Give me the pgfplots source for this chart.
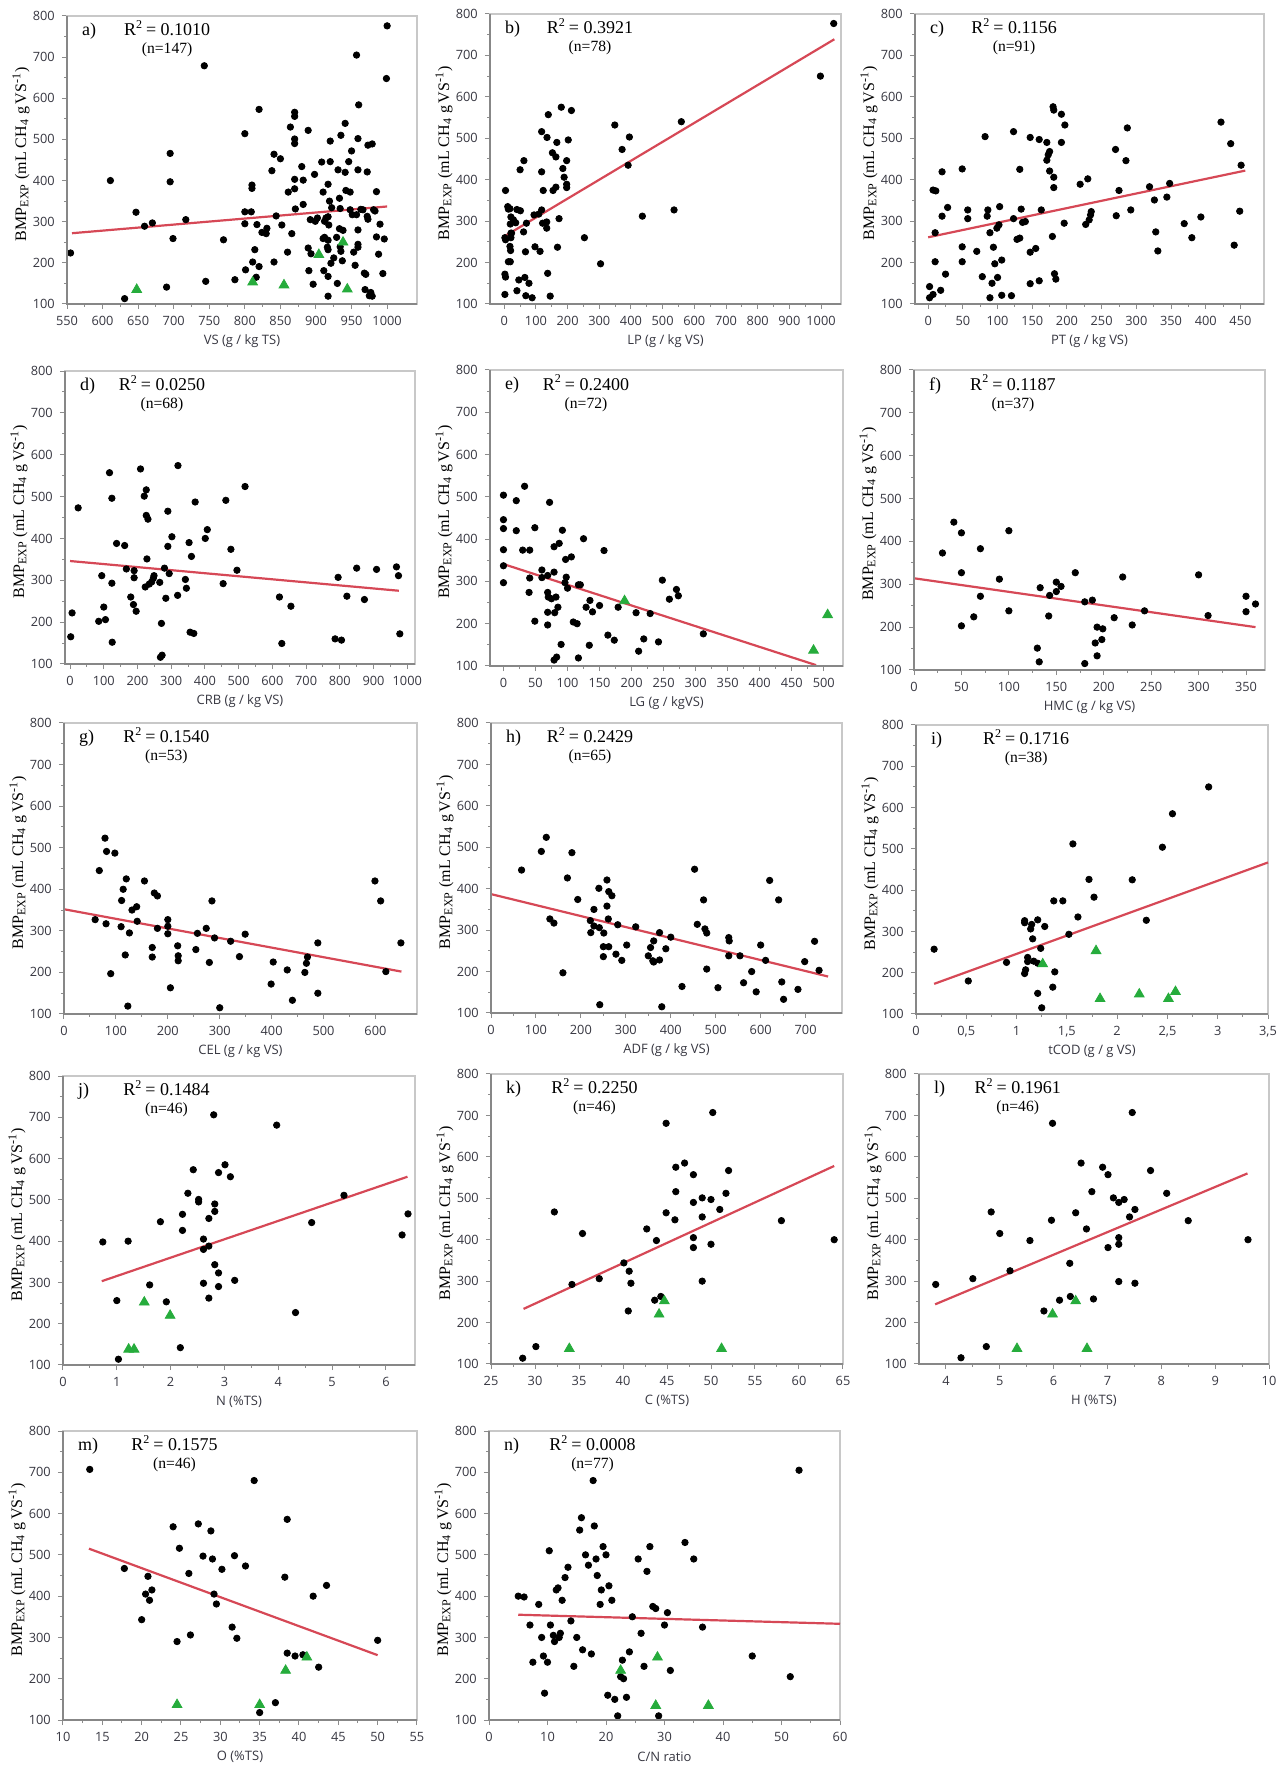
\documentclass[border=0pt]{standalone}
\usepackage{fontspec}
\setmainfont{Liberation Serif}
\newfontfamily\tickfont{Open Sans}
\usepackage{pgfplots}
\pgfplotsset{compat=1.18}

\definecolor{fitred}{RGB}{214,72,86}
\definecolor{trigreen}{RGB}{38,172,60}
\definecolor{framegray}{RGB}{200,200,200}
\definecolor{axisdark}{RGB}{135,135,135}
\definecolor{tickgray}{RGB}{140,140,140}
\definecolor{labcol}{RGB}{55,55,65}

\newcommand\tickfnt{\tickfont\fontsize{6.4}{7.5}\selectfont}
\newcommand\xlabfnt{\tickfont\fontsize{6.5}{7.5}\selectfont}
\newcommand\ylabfnt{\fontsize{8}{9}\selectfont}
\newcommand\rfnt{\fontsize{9}{10}\selectfont}
\newcommand\nfnt{\fontsize{7.8}{9}\selectfont}

\pgfplotsset{
  panel/.style={
    scale only axis, clip=false, anchor=south west,
    ymin=100, ymax=800, ytick={100,200,...,800},
    minor x tick num=1, minor y tick num=1,
    tick align=outside, tick pos=left,
    major tick length=2.6pt, minor tick length=1.5pt,
    tick style={tickgray, line width=0.5pt},
    axis line style={framegray, line width=0.6pt},
    ticklabel style={font=\tickfnt, text=labcol},
    /pgf/number format/assume math mode=true,
    /pgf/number format/1000 sep={},
    scaled ticks=false,
    ylabel={BMP\textsubscript{EXP} (mL CH\textsubscript{4} g\,VS\textsuperscript{-1})},
    every axis y label/.style={at={(axis description cs:0,0.52)}, xshift=-23pt,
      anchor=center, rotate=90, font=\ylabfnt},
    every axis x label/.style={at={(axis description cs:0.5,0)}, yshift=-18.5pt,
      anchor=center, font=\xlabfnt, text=labcol},
    after end axis/.code={\draw[axisdark, line width=0.6pt]
      (rel axis cs:0,1) -- (rel axis cs:0,0) -- (rel axis cs:1,0);},
  },
  dots/.style={only marks, mark=*, mark size=1.6pt, black},
  tris/.style={only marks, mark=triangle*, mark size=2.8pt, color=trigreen},
  fit/.style={no marks, fitred, line width=1.1pt},
}

% letter, R^2, n, horizontal position of the statistics
\newcommand\stats[4]{%
  \node[anchor=west, font=\rfnt] at ([xshift=4pt]rel axis cs:0,0.948) {#1)};
  \node[font=\rfnt] at (rel axis cs:#4,0.958) {R\textsuperscript{2}\,= #2};
  \node[font=\nfnt] at (rel axis cs:#4,0.884) {(n=#3)};
}

\begin{document}
\begin{tikzpicture}
\useasboundingbox (0,0) rectangle (641pt,883.5pt);

% a) VS
\begin{axis}[panel, at={(33.5pt,731.5pt)}, width=175pt, height=144pt,
  xmin=550, xmax=1042, xtick={550,600,...,1000}, xlabel={VS (g / kg TS)}]
\addplot[fit] coordinates {(557,272) (1000,337)};
\addplot[dots] coordinates {
(555,224)(631,113)(647,323)(659,289)(670,297)(611,400)(690,141)(695,466)(695,397)(699,259)
(717,305)(743,679)(745,155)(770,256)(786,159)(800,514)(800,324)(800,295)(801,183)(809,324)
(810,389)(810,381)(811,202)(814,232)(816,165)(817,293)(820,191)(820,573)(824,274)(831,284)
(830,271)(838,424)(841,464)(841,202)(844,314)(850,453)(852,292)(860,226)(861,372)(864,530)
(866,271)(870,566)(870,556)(870,501)(870,490)(870,403)(870,380)(871,331)(880,434)(882,401)
(882,342)(889,522)(889,236)(890,181)(892,305)(893,222)(896,148)(898,415)(899,301)(902,309)
(908,445)(910,372)(910,259)(911,181)(912,301)(914,309)(916,238)(917,312)(917,119)(917,167)
(917,391)(917,255)(918,292)(919,350)(920,446)(920,496)(921,199)(922,334)(925,212)(929,262)
(930,150)(931,426)(933,357)(933,283)(934,239)(935,228)(935,510)(937,205)(938,279)(934,332)
(941,539)(941,420)(942,376)(946,446)(948,372)(948,329)(950,472)(951,317)(953,226)(955,194)
(957,705)(959,502)(959,426)(959,280)(960,584)(959,245)(959,238)(966,329)(968,175)(969,135)
(970,172)(972,313)(973,306)(972,421)(973,486)(977,128)(975,120)(979,119)(979,489)(981,329)
(983,326)(985,373)(985,263)(988,221)(990,294)(994,174)(996,258)(999,648)(1000,776)
(957,317)(963,330)(917,232)(912,262)};
\addplot[tris] coordinates {(648,135)(811,153)(855,146)(904,220)(938,250)(944,136)};
\stats{a}{0.1010}{147}{0.286}
\end{axis}

% b) LP
\begin{axis}[panel, at={(245pt,731.5pt)}, width=175.5pt, height=145pt,
  xmin=-45, xmax=1063, xtick={0,100,...,1000}, xlabel={LP (g / kg VS)}]
\addplot[fit] coordinates {(0,263) (1042,739)};
\addplot[dots] coordinates {
(4,374)(2,260)(4,255)(2,172)(4,165)(2,123)(11,335)(13,329)(18,330)(21,310)(23,271)(19,293)
(29,303)(36,296)(21,271)(21,260)(18,239)(20,229)(13,202)(19,202)(40,328)(51,325)(50,424)
(62,446)(61,274)(67,226)(70,295)(46,158)(65,164)(78,150)(40,132)(68,120)(88,115)(97,238)
(113,227)(94,315)(109,317)(118,327)(121,295)(134,298)(134,283)(118,419)(123,374)(118,516)
(135,502)(139,557)(137,174)(145,119)(152,465)(154,374)(163,382)(163,455)(166,490)(168,237)
(173,306)(180,575)(185,427)(189,406)(197,446)(197,389)(197,381)(202,496)(212,567)(253,260)
(304,197)(349,532)(372,473)(391,435)(395,503)(436,312)(536,327)(559,540)(998,650)(1040,777)};
\stats{b}{0.3921}{78}{0.285}
\end{axis}

% c) PT
\begin{axis}[panel, at={(457.5pt,731.5pt)}, width=174.5pt, height=145pt,
  xmin=-19, xmax=484, xtick={0,50,...,450}, xlabel={PT (g / kg VS)}]
\addplot[fit] coordinates {(0,261) (457,422)};
\addplot[dots] coordinates {
(2,115)(2,142)(7,123)(7,375)(11,373)(10,272)(10,202)(18,133)(20,419)(20,312)(25,172)(28,333)
(49,426)(49,238)(49,202)(57,327)(57,306)(70,227)(78,166)(82,504)(85,312)(86,327)(89,272)
(89,115)(92,150)(94,237)(96,197)(99,283)(100,164)(102,291)(103,335)(106,206)(106,121)
(120,120)(123,516)(123,306)(128,256)(132,425)(132,259)(134,329)(136,297)(140,299)(155,234)
(147,502)(147,225)(147,149)(160,497)(160,156)(163,327)(171,490)(171,447)(173,460)(175,468)
(175,421)(180,576)(181,568)(181,406)(181,381)(179,263)(182,173)(184,160)(192,490)(192,558)
(197,532)(196,295)(219,389)(230,402)(227,292)(232,303)(234,315)(235,323)(270,473)(271,313)
(275,374)(285,446)(287,525)(292,327)(319,383)(326,351)(328,274)(331,228)(344,358)(348,391)
(369,294)(380,260)(393,310)(422,539)(436,487)(441,242)(449,324)(451,435)};
\stats{c}{0.1156}{91}{0.284}
\end{axis}

% d) CRB
\begin{axis}[panel, at={(32.5pt,551.5pt)}, width=175pt, height=146.5pt,
  xmin=-15, xmax=1023, xtick={0,100,...,1000}, xlabel={CRB (g / kg VS)}]
\addplot[fit] coordinates {(0,346) (975,275)};
\addplot[dots] coordinates {
(2,165)(6,222)(24,473)(85,202)(94,311)(100,236)(105,206)(117,557)(124,496)(124,293)(125,152)
(138,388)(162,383)(167,327)(180,260)(188,242)(190,323)(190,306)(196,226)(209,566)(220,501)
(226,516)(223,284)(226,455)(231,446)(228,351)(235,291)(242,296)(247,305)(249,311)(266,295)
(271,197)(268,116)(273,121)(280,329)(284,257)(290,465)(290,381)(294,316)(302,404)(319,264)
(320,574)(342,302)(345,281)(353,390)(360,357)(356,176)(367,173)(371,487)(401,400)(407,421)
(454,292)(462,491)(477,374)(495,324)(519,524)(621,260)(628,149)(655,238)(786,160)(795,307)
(805,157)(821,262)(850,329)(873,254)(909,326)(968,332)(974,311)(978,172)};
\stats{d}{0.0250}{68}{0.277}
\end{axis}

% e) LG
\begin{axis}[panel, at={(245pt,550.5pt)}, width=176.5pt, height=148pt,
  xmin=-21, xmax=530, xtick={0,50,...,500}, xlabel={LG (g / kgVS)}]
\addplot[fit] coordinates {(0,341) (488,102)};
\addplot[dots] coordinates {
(0,504)(0,446)(0,425)(0,375)(0,337)(0,297)(20,491)(20,420)(33,525)(30,374)(41,374)(41,308)
(40,274)(49,427)(49,206)(60,327)(60,309)(72,487)(69,314)(69,274)(70,263)(69,227)(69,197)
(75,259)(79,322)(79,382)(80,226)(79,114)(83,121)(82,263)(85,239)(87,390)(90,151)(92,421)
(97,352)(98,310)(100,284)(96,297)(106,358)(109,204)(115,200)(117,119)(117,292)(120,292)
(125,401)(129,239)(135,255)(134,149)(139,228)(150,243)(157,373)(163,173)(173,161)(179,239)
(207,226)(211,135)(219,164)(229,224)(242,157)(248,303)(259,258)(270,281)(273,266)(312,176)};
\addplot[tris] coordinates {(189,254)(484,137)(506,221)};
\stats{e}{0.2400}{72}{0.272}
\end{axis}

% f) HMC
\begin{axis}[panel, at={(457pt,548.5pt)}, width=175.5pt, height=150pt,
  xmin=0, xmax=370, xtick={0,50,...,350}, xlabel={HMC (g / kg VS)}]
\addplot[fit] coordinates {(0,314) (360,200)};
\addplot[dots] coordinates {
(30,373)(42,445)(50,420)(50,327)(50,203)(70,383)(70,272)(63,224)(90,312)(100,425)(100,238)
(130,151)(132,119)(133,292)(142,226)(143,274)(150,305)(150,283)(155,295)(170,327)(180,259)
(180,115)(188,263)(191,163)(193,200)(193,133)(198,171)(199,196)(211,222)(220,317)(230,205)
(243,238)(300,322)(310,227)(350,272)(350,236)(360,254)};
\stats{f}{0.1187}{37}{0.282}
\end{axis}

% g) CEL
\begin{axis}[panel, at={(32pt,376.5pt)}, width=176.5pt, height=145.5pt,
  xmin=0, xmax=680, xtick={0,100,...,600}, xlabel={CEL (g / kg VS)}]
\addplot[fit] coordinates {(0,352) (650,202)};
\addplot[dots] coordinates {
(60,327)(68,445)(79,523)(81,317)(82,491)(98,487)(90,197)(110,310)(111,373)(114,400)(118,242)
(120,425)(123,119)(126,295)(131,350)(140,358)(141,323)(155,420)(170,260)(170,237)(174,391)
(180,384)(180,306)(200,327)(200,311)(200,293)(205,163)(219,264)(220,240)(220,228)(254,255)
(257,294)(274,306)(280,224)(285,372)(290,283)(300,115)(321,275)(338,238)(349,292)(399,172)
(403,225)(430,206)(440,133)(464,200)(467,222)(469,237)(489,271)(489,150)(599,420)(610,372)
(620,202)(649,271)};
\stats{g}{0.1540}{53}{0.290}
\end{axis}

% h) ADF
\begin{axis}[panel, at={(245.5pt,377pt)}, width=175.5pt, height=145pt,
  xmin=0, xmax=781, xtick={0,100,...,700}, xlabel={ADF (g / kg VS)}]
\addplot[fit] coordinates {(0,387) (750,188)};
\addplot[dots] coordinates {
(68,445)(112,490)(123,524)(131,327)(140,317)(160,197)(170,426)(180,487)(193,374)(221,323)
(222,294)(229,350)(229,310)(240,401)(241,306)(242,120)(251,293)(250,260)(250,236)(258,421)
(258,358)(261,327)(262,393)(262,260)(269,383)(278,242)(282,313)(291,227)(302,264)(322,308)
(350,238)(355,258)(362,274)(362,223)(360,226)(375,294)(375,228)(380,115)(389,255)(400,283)
(425,164)(453,447)(459,314)(473,373)(476,303)(480,293)(480,206)(505,161)(529,282)(530,274)
(529,238)(554,238)(562,173)(580,200)(590,151)(600,264)(611,227)(620,420)(640,373)(647,175)
(651,133)(683,157)(698,224)(720,273)(730,203)};
\stats{h}{0.2429}{65}{0.282}
\end{axis}

% i) tCOD
\begin{axis}[panel, at={(458pt,376.5pt)}, width=176pt, height=144.5pt,
  xmin=0, xmax=3.5, xtick={0,0.5,1,1.5,2,2.5,3,3.5},
  xticklabels={0,{0,5},1,{1,5},2,{2,5},3,{3,5}}, xlabel={tCOD (g / g VS)}]
\addplot[fit] coordinates {(0.18,173) (3.5,467)};
\addplot[dots] coordinates {
(0.18,257)(0.52,180)(0.90,225)(1.08,326)(1.08,321)(1.09,207)(1.08,198)(1.11,237)(1.11,227)
(1.14,306)(1.15,317)(1.16,282)(1.17,228)(1.21,328)(1.21,223)(1.21,150)(1.24,259)(1.25,115)
(1.28,312)(1.36,165)(1.37,374)(1.38,202)(1.46,374)(1.52,293)(1.56,512)(1.61,335)(1.72,426)
(1.77,383)(2.15,425)(2.29,327)(2.45,504)(2.55,585)(2.91,650)};
\addplot[tris] coordinates {(1.26,221)(1.79,253)(1.83,137)(2.22,148)(2.51,137)(2.58,154)};
\stats{i}{0.1716}{38}{0.313}
\end{axis}

% j) N
\begin{axis}[panel, at={(31.5pt,201pt)}, width=176pt, height=144.5pt,
  xmin=0, xmax=6.54, xtick={0,1,...,6}, xlabel={N (\%TS)}]
\addplot[fit] coordinates {(0.72,303) (6.4,556)};
\addplot[dots] coordinates {
(0.74,398)(1.0,256)(1.03,114)(1.21,400)(1.61,294)(1.81,447)(1.92,253)(2.18,142)(2.22,465)
(2.22,426)(2.32,516)(2.42,573)(2.52,501)(2.52,495)(2.61,405)(2.61,380)(2.61,298)(2.71,455)
(2.71,388)(2.71,262)(2.80,706)(2.82,490)(2.82,472)(2.82,343)(2.89,566)(2.89,323)(2.89,290)
(3.01,585)(3.11,556)(3.19,305)(3.97,681)(4.32,227)(4.62,445)(5.22,511)(6.30,415)(6.41,466)};
\addplot[tris] coordinates {(1.22,138)(1.32,138)(1.51,252)(1.99,220)};
\stats{j}{0.1484}{46}{0.294}
\end{axis}

% k) C
\begin{axis}[panel, at={(245.5pt,201.5pt)}, width=176pt, height=145pt,
  xmin=25, xmax=65, xtick={25,30,...,65}, xlabel={C (\%TS)}]
\addplot[fit] coordinates {(28.7,233) (64,578)};
\addplot[dots] coordinates {
(28.6,114)(30.1,142)(32.2,467)(34.2,292)(35.4,415)(37.3,306)(40.1,344)(40.7,324)(40.9,295)
(40.6,228)(42.7,426)(43.6,254)(43.8,398)(44.3,263)(44.9,681)(44.9,465)(45.9,448)(46.0,575)
(46.0,516)(47.0,585)(48.0,557)(48.0,490)(48.0,405)(48.0,381)(49.0,501)(49.0,455)(49.0,300)
(50.0,497)(50.0,389)(50.2,707)(51.0,473)(51.7,512)(52.0,567)(58.0,446)(64.0,400)};
\addplot[tris] coordinates {(33.9,137)(44.1,220)(44.7,252)(51.2,137)};
\stats{k}{0.2250}{46}{0.294}
\end{axis}

% l) H
\begin{axis}[panel, at={(459.5pt,201.5pt)}, width=175pt, height=145pt,
  xmin=3.5, xmax=10, xtick={4,5,...,10}, xlabel={H (\%TS)}]
\addplot[fit] coordinates {(3.8,244) (9.6,560)};
\addplot[dots] coordinates {
(3.81,292)(4.28,115)(4.50,306)(4.75,142)(4.84,467)(5.0,415)(5.19,325)(5.56,398)(5.82,228)
(5.96,447)(5.98,681)(6.11,254)(6.30,343)(6.31,263)(6.41,465)(6.51,585)(6.61,426)(6.71,516)
(6.74,257)(6.91,575)(7.01,557)(7.01,381)(7.11,501)(7.21,490)(7.21,405)(7.21,389)(7.21,299)
(7.31,497)(7.41,455)(7.46,707)(7.51,473)(7.51,295)(7.80,567)(8.10,512)(8.50,446)(9.61,400)};
\addplot[tris] coordinates {(5.32,137)(5.98,220)(6.41,252)(6.62,137)};
\stats{l}{0.1961}{46}{0.282}
\end{axis}

% m) O
\begin{axis}[panel, at={(31.5pt,23.5pt)}, width=177pt, height=144.5pt,
  xmin=10, xmax=55, xtick={10,15,...,55}, xlabel={O (\%TS)}]
\addplot[fit] coordinates {(13.3,515) (50,257)};
\addplot[dots] coordinates {
(13.4,707)(17.8,467)(20.0,343)(20.5,405)(21.0,390)(21.3,415)(20.8,448)(24.0,568)(24.5,290)
(24.8,516)(26.0,455)(26.2,306)(27.2,575)(27.8,497)(28.8,558)(29.0,490)(29.2,405)(29.5,381)
(30.2,465)(31.5,325)(31.8,498)(32.1,298)(33.2,473)(34.3,680)(35.0,118)(37.0,142)(38.5,586)
(38.2,446)(38.5,262)(39.5,255)(40.5,258)(41.8,400)(42.5,228)(43.5,426)(50.0,293)};
\addplot[tris] coordinates {(24.5,137)(35.0,137)(38.3,220)(41.0,252)};
\stats{m}{0.1575}{46}{0.315}
\end{axis}

% n) C/N ratio
\begin{axis}[panel, at={(244.5pt,23.5pt)}, width=175.5pt, height=144.5pt,
  xmin=0, xmax=60, xtick={0,10,...,60}, xlabel={C/N ratio}]
\addplot[fit] coordinates {(5,355) (60,333)};
\addplot[dots] coordinates {
(5.0,400)(6.0,398)(7.0,330)(7.5,240)(8.5,380)(9.0,300)(9.3,255)(9.5,165)(10.0,240)(10.3,510)
(10.5,330)(11.0,305)(11.2,290)(11.5,415)(11.8,420)(12.0,300)(12.2,310)(12.5,390)(13.0,445)
(13.5,470)(14.0,340)(14.5,230)(15.0,300)(15.5,560)(15.8,590)(16.0,270)(16.5,500)(17.0,475)
(17.5,260)(17.8,680)(18.0,570)(18.3,490)(18.5,450)(19.0,380)(19.2,415)(19.5,520)(20.0,500)
(20.3,160)(20.5,425)(21.0,390)(21.5,150)(22.0,110)(22.5,205)(22.8,245)(23.0,200)(23.5,155)
(24.0,265)(24.5,350)(25.5,490)(26.0,310)(26.5,230)(27.0,460)(27.5,520)(28.0,375)(28.5,370)
(29.0,110)(30.0,330)(30.5,360)(31.0,220)(33.5,530)(35.0,490)(36.5,325)(45.0,255)(51.5,205)
(53.0,705)};
\addplot[tris] coordinates {(22.5,220)(28.5,135)(28.8,252)(37.5,135)};
\stats{n}{0.0008}{77}{0.295}
\end{axis}
\end{tikzpicture}
\end{document}
